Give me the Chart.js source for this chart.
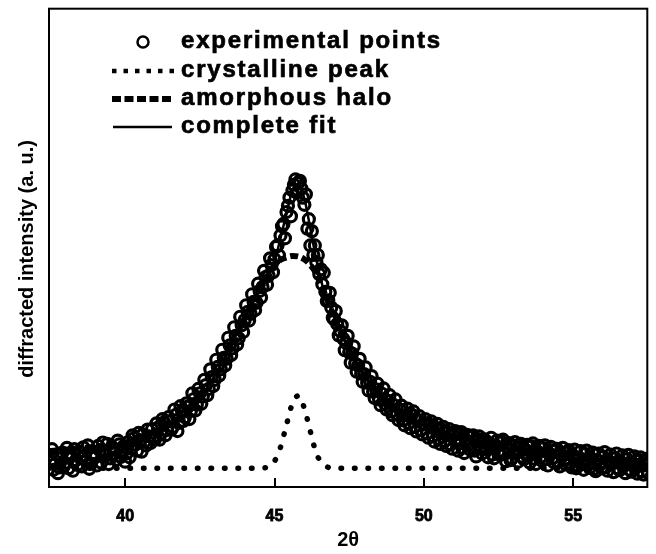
<!DOCTYPE html>
<html>
<head>
<meta charset="utf-8">
<script src="https://cdn.jsdelivr.net/npm/chart.js@4.4.1/dist/chart.umd.min.js"></script>
<style>
  html, body { margin: 0; padding: 0; background: #fff; }
  #wrap { position: relative; width: 656px; height: 554px; }
  #legend { position: absolute; left: 0; top: 0; font: bold 24px "Liberation Sans", Arial, sans-serif; letter-spacing: 1.8px; color: #000; -webkit-text-stroke: 0.7px #000; }
  .row { position: absolute; left: 110px; height: 28px; line-height: 28px; white-space: nowrap; }
  .row svg { position: absolute; left: 0; top: 0; }
  .row span { position: absolute; left: 71px; top: 0; }
</style>
</head>
<body>
<div id="wrap">
  <canvas id="xrdChart" width="656" height="554"></canvas>
  <div id="legend">
    <div class="row" style="top:26px">
      <svg width="70" height="28"><circle cx="33" cy="16" r="5.5" fill="none" stroke="#000" stroke-width="2.5"/></svg>
      <span>experimental points</span>
    </div>
    <div class="row" style="top:55px">
      <svg width="70" height="28"><line x1="2" y1="16" x2="64" y2="16" stroke="#000" stroke-width="4.5" stroke-dasharray="4.5 7"/></svg>
      <span>crystalline peak</span>
    </div>
    <div class="row" style="top:83px">
      <svg width="70" height="28"><line x1="2" y1="16" x2="63" y2="16" stroke="#000" stroke-width="6" stroke-dasharray="9 3.5"/></svg>
      <span>amorphous halo</span>
    </div>
    <div class="row" style="top:111px">
      <svg width="70" height="28"><line x1="3" y1="16" x2="62" y2="16" stroke="#000" stroke-width="2.5"/></svg>
      <span>complete fit</span>
    </div>
  </div>
</div>
<script>
// measured points (2θ, intensity in a.u.), first pass on the 0.1 grid
const expX = [
  37.5, 37.6, 37.7, 37.8, 37.9,
  38.0, 38.1, 38.2, 38.3, 38.4, 38.5, 38.6, 38.7, 38.8, 38.9,
  39.0, 39.1, 39.2, 39.3, 39.4, 39.5, 39.6, 39.7, 39.8, 39.9,
  40.0, 40.1, 40.2, 40.3, 40.4, 40.5, 40.6, 40.7, 40.8, 40.9,
  41.0, 41.1, 41.2, 41.3, 41.4, 41.5, 41.6, 41.7, 41.8, 41.9,
  42.0, 42.1, 42.2, 42.3, 42.4, 42.5, 42.6, 42.7, 42.8, 42.9,
  43.0, 43.1, 43.2, 43.3, 43.4, 43.5, 43.6, 43.7, 43.8, 43.9,
  44.0, 44.1, 44.2, 44.3, 44.4, 44.5, 44.6, 44.7, 44.8, 44.9,
  45.0, 45.1, 45.2, 45.3, 45.4, 45.5, 45.6, 45.7, 45.8, 45.9,
  46.0, 46.1, 46.2, 46.3, 46.4, 46.5, 46.6, 46.7, 46.8, 46.9,
  47.0, 47.1, 47.2, 47.3, 47.4, 47.5, 47.6, 47.7, 47.8, 47.9,
  48.0, 48.1, 48.2, 48.3, 48.4, 48.5, 48.6, 48.7, 48.8, 48.9,
  49.0, 49.1, 49.2, 49.3, 49.4, 49.5, 49.6, 49.7, 49.8, 49.9,
  50.0, 50.1, 50.2, 50.3, 50.4, 50.5, 50.6, 50.7, 50.8, 50.9,
  51.0, 51.1, 51.2, 51.3, 51.4, 51.5, 51.6, 51.7, 51.8, 51.9,
  52.0, 52.1, 52.2, 52.3, 52.4, 52.5, 52.6, 52.7, 52.8, 52.9,
  53.0, 53.1, 53.2, 53.3, 53.4, 53.5, 53.6, 53.7, 53.8, 53.9,
  54.0, 54.1, 54.2, 54.3, 54.4, 54.5, 54.6, 54.7, 54.8, 54.9,
  55.0, 55.1, 55.2, 55.3, 55.4, 55.5, 55.6, 55.7, 55.8, 55.9,
  56.0, 56.1, 56.2, 56.3, 56.4, 56.5, 56.6, 56.7, 56.8, 56.9,
  57.0, 57.1, 57.2, 57.3, 57.4, 57.5
];
const expY = [
  5.2, 3.6, 6.8, 4.1, 7.2,
  5.0, 3.9, 6.5, 7.9, 4.6, 6.1, 8.3, 5.4, 3.8, 7.0,
  6.2, 8.6, 5.1, 7.4, 9.0, 6.0, 8.1, 5.7, 8.9, 7.3,
  5.3, 9.4, 8.0, 10.2, 7.6, 9.8, 11.0, 8.7, 10.6, 12.1,
  10.0, 12.4, 11.2, 13.5, 11.9, 13.8, 12.6, 15.1, 13.4, 15.9,
  14.6, 16.8, 15.9, 18.4, 17.2, 19.6, 18.9, 21.3, 20.5, 23.0,
  22.4, 25.1, 24.6, 27.0, 26.8, 29.6, 29.0, 31.6, 31.1, 33.8,
  34.9, 36.6, 36.2, 38.7, 38.5, 41.0, 41.8, 43.9, 44.2, 46.4,
  47.6, 50.5, 52.6, 55.0, 57.5, 60.5, 62.0, 64.3, 63.6, 62.4,
  59.0, 54.0, 50.5, 48.5, 47.0, 44.5, 42.4, 40.8, 39.0, 37.5,
  35.0, 34.1, 32.6, 31.0, 30.1, 28.2, 27.9, 25.8, 25.4, 23.7,
  23.6, 21.8, 22.0, 19.9, 20.4, 18.3, 19.5, 17.4, 18.0, 15.8,
  17.1, 15.2, 16.2, 13.9, 15.0, 13.4, 15.1, 12.6, 14.0, 11.9,
  13.2, 11.2, 13.0, 10.6, 12.3, 10.1, 12.0, 9.6, 11.4, 8.9,
  10.8, 9.5, 11.1, 8.2, 9.9, 8.8, 10.5, 7.6, 9.6, 8.4,
  10.0, 7.9, 9.1, 6.8, 8.7, 7.5, 9.4, 6.9, 8.3, 5.6,
  8.6, 7.1, 8.9, 6.3, 7.8, 6.6, 8.5, 5.9, 7.4, 6.2,
  8.1, 5.8, 7.0, 6.0, 7.6, 5.3, 6.8, 5.5, 7.2, 4.9,
  6.6, 3.9, 6.1, 5.0, 6.9, 4.6, 6.0, 3.8, 5.6, 4.7,
  6.3, 4.2, 5.4, 4.9, 6.0, 3.9, 5.2, 4.4, 5.8, 3.6,
  5.0, 4.1, 5.5, 3.3, 4.6, 3.0
];
// second pass, shifted half a step
const expX2 = [
  37.55, 37.65, 37.75, 37.85, 37.95,
  38.05, 38.15, 38.25, 38.35, 38.45, 38.55, 38.65, 38.75, 38.85, 38.95,
  39.05, 39.15, 39.25, 39.35, 39.45, 39.55, 39.65, 39.75, 39.85, 39.95,
  40.05, 40.15, 40.25, 40.35, 40.45, 40.55, 40.65, 40.75, 40.85, 40.95,
  41.05, 41.15, 41.25, 41.35, 41.45, 41.55, 41.65, 41.75, 41.85, 41.95,
  42.05, 42.15, 42.25, 42.35, 42.45, 42.55, 42.65, 42.75, 42.85, 42.95,
  43.05, 43.15, 43.25, 43.35, 43.45, 43.55, 43.65, 43.75, 43.85, 43.95,
  44.05, 44.15, 44.25, 44.35, 44.45, 44.55, 44.65, 44.75, 44.85, 44.95,
  45.05, 45.15, 45.25, 45.35, 45.45, 45.55, 45.65, 45.75, 45.85, 45.95,
  46.05, 46.15, 46.25, 46.35, 46.45, 46.55, 46.65, 46.75, 46.85, 46.95,
  47.05, 47.15, 47.25, 47.35, 47.45, 47.55, 47.65, 47.75, 47.85, 47.95,
  48.05, 48.15, 48.25, 48.35, 48.45, 48.55, 48.65, 48.75, 48.85, 48.95,
  49.05, 49.15, 49.25, 49.35, 49.45, 49.55, 49.65, 49.75, 49.85, 49.95,
  50.05, 50.15, 50.25, 50.35, 50.45, 50.55, 50.65, 50.75, 50.85, 50.95,
  51.05, 51.15, 51.25, 51.35, 51.45, 51.55, 51.65, 51.75, 51.85, 51.95,
  52.05, 52.15, 52.25, 52.35, 52.45, 52.55, 52.65, 52.75, 52.85, 52.95,
  53.05, 53.15, 53.25, 53.35, 53.45, 53.55, 53.65, 53.75, 53.85, 53.95,
  54.05, 54.15, 54.25, 54.35, 54.45, 54.55, 54.65, 54.75, 54.85, 54.95,
  55.05, 55.15, 55.25, 55.35, 55.45, 55.55, 55.65, 55.75, 55.85, 55.95,
  56.05, 56.15, 56.25, 56.35, 56.45, 56.55, 56.65, 56.75, 56.85, 56.95,
  57.05, 57.15, 57.25, 57.35, 57.45
];
const expY2 = [
  7.9, 4.8, 2.9, 6.0, 4.4,
  8.2, 6.9, 3.4, 5.6, 7.4, 4.3, 6.6, 8.7, 4.9, 6.4,
  4.5, 7.7, 9.3, 6.6, 4.8, 8.4, 7.0, 9.7, 6.3, 8.5,
  7.0, 6.2, 10.8, 8.9, 11.3, 7.4, 9.5, 12.0, 9.2, 10.4,
  13.3, 9.9, 14.2, 10.8, 14.6, 12.0, 16.2, 11.7, 16.9, 13.8,
  17.5, 14.2, 19.6, 16.0, 20.5, 17.4, 22.4, 19.2, 24.6, 21.1,
  26.6, 23.3, 28.7, 25.4, 31.2, 27.6, 33.4, 29.8, 35.6, 32.4,
  38.0, 34.8, 40.3, 37.0, 42.5, 39.6, 45.2, 42.3, 47.8, 44.9,
  50.2, 48.4, 54.5, 52.0, 58.8, 56.6, 63.2, 61.5, 64.0, 60.5,
  61.2, 56.0, 53.5, 50.5, 48.5, 45.5, 44.8, 38.9, 40.6, 35.4,
  36.8, 31.7, 33.8, 28.6, 31.6, 26.0, 29.4, 24.1, 26.8, 22.0,
  25.0, 20.2, 23.2, 18.6, 21.6, 17.1, 20.6, 16.2, 19.2, 15.0,
  18.3, 14.0, 17.0, 12.9, 16.4, 12.3, 15.8, 11.6, 14.8, 11.0,
  14.2, 10.3, 13.7, 9.5, 13.2, 9.0, 12.6, 8.6, 12.1, 8.0,
  11.7, 7.6, 11.5, 7.1, 10.9, 7.8, 10.8, 6.4, 10.6, 7.0,
  9.8, 6.2, 10.3, 6.0, 9.7, 6.7, 9.9, 5.4, 9.2, 6.0,
  9.4, 5.3, 9.0, 5.8, 8.8, 5.1, 9.1, 4.8, 8.6, 5.5,
  8.7, 4.5, 8.4, 5.2, 8.0, 4.3, 8.2, 4.7, 7.7, 4.1,
  7.8, 4.4, 7.5, 3.6, 7.6, 4.0, 7.2, 3.3, 7.0, 3.9,
  7.3, 3.4, 6.8, 3.1, 7.0, 3.5, 6.6, 2.9, 6.7, 3.2,
  6.4, 2.8, 6.2, 2.6, 5.9
];

// fitted components
const fitX = [37.45, 38, 38.5, 39, 39.5, 40, 40.5, 41, 41.5, 42, 42.5, 43, 43.5, 44, 44.5,
  44.8, 45, 45.2, 45.4, 45.6, 45.8, 46, 46.2, 46.4, 46.6, 46.8, 47, 47.5, 48, 48.5,
  49, 49.5, 50, 51, 52, 53, 54, 55, 56, 57, 57.48];
const fitY = [7.5, 7.8, 8.1, 8.4, 8.8, 9.3, 10.2, 11.5, 13.1, 15.3, 18.7, 23.3, 29.2, 35.2, 41.0,
  44.3, 47.2, 52.0, 57.2, 62.0, 63.4, 60.3, 54.0, 47.5, 42.2, 38.8, 35.5, 28.6, 23.3, 19.4,
  16.6, 14.5, 12.8, 10.4, 8.8, 7.6, 6.7, 6.1, 5.6, 5.1, 4.9];
const haloY = [7.5, 7.8, 8.1, 8.4, 8.8, 9.3, 10.2, 11.5, 13.1, 15.3, 18.7, 23.3, 29.2, 35.2, 41.0,
  44.4, 46.3, 47.5, 48.0, 48.3, 48.2, 47.6, 46.4, 44.6, 41.6, 38.6, 35.4, 28.6, 23.3, 19.4,
  16.6, 14.5, 12.8, 10.4, 8.8, 7.6, 6.7, 6.1, 5.6, 5.1, 4.9];
const crysX = [37.45, 44.4, 44.6, 44.8, 45.0, 45.2, 45.4, 45.6, 45.8, 46.0, 46.2, 46.4, 46.6, 46.8, 47.0, 57.48];
const crysY = [3.9, 3.9, 4.0, 4.2, 5.4, 8.3, 13.0, 17.5, 19.1, 16.4, 11.6, 7.0, 5.0, 4.1, 3.9, 3.9];

const xTicks = [40, 45, 50, 55];

const pts = (xs, ys) => xs.map((x, i) => ({ x, y: ys[i] }));

// box around the plot + inward tick marks
const framePlugin = {
  id: 'frame',
  afterDraw(chart) {
    const { ctx, chartArea: a, scales } = chart;
    ctx.save();
    ctx.strokeStyle = '#000';
    ctx.lineWidth = 2;
    ctx.strokeRect(a.left, a.top, a.right - a.left, a.bottom - a.top);
    ctx.beginPath();
    xTicks.forEach(v => {
      const px = Math.round(scales.x.getPixelForValue(v));
      ctx.moveTo(px, a.bottom);
      ctx.lineTo(px, a.bottom - 9);
    });
    ctx.stroke();
    ctx.restore();
  }
};

const font = "'Liberation Sans', Arial, sans-serif";

new Chart(document.getElementById('xrdChart'), {
  type: 'scatter',
  data: {
    datasets: [
      {
        label: 'experimental points',
        data: pts(expX, expY).concat(pts(expX2, expY2)),
        showLine: false,
        pointRadius: 5.5,
        pointBorderWidth: 3.2,
        borderColor: '#000',
        backgroundColor: 'rgba(0,0,0,0)',
        order: 4
      },
      {
        label: 'crystalline peak',
        data: pts(crysX, crysY),
        showLine: true,
        pointRadius: 0,
        borderColor: '#000',
        borderWidth: 5.5,
        borderDash: [0.5, 13],
        borderCapStyle: 'round',
        cubicInterpolationMode: 'monotone',
        order: 3
      },
      {
        label: 'amorphous halo',
        data: pts(fitX, haloY),
        showLine: true,
        pointRadius: 0,
        borderColor: '#000',
        borderWidth: 6,
        borderDash: [8, 4],
        cubicInterpolationMode: 'monotone',
        order: 2
      },
      {
        label: 'complete fit',
        data: pts(fitX, fitY),
        showLine: true,
        pointRadius: 0,
        borderColor: '#000',
        borderWidth: 2.5,
        cubicInterpolationMode: 'monotone',
        order: 1
      }
    ]
  },
  options: {
    responsive: false,
    animation: false,
    devicePixelRatio: 1,
    layout: { padding: { top: 7, right: 6, left: 0, bottom: 0 } },
    plugins: { legend: { display: false }, tooltip: { enabled: false } },
    scales: {
      x: {
        type: 'linear',
        min: 37.45,
        max: 57.48,
        afterBuildTicks: s => { s.ticks = xTicks.map(v => ({ value: v })); },
        afterFit: s => { s.height = 67; },
        grid: { display: false, drawTicks: false },
        border: { display: false },
        ticks: {
          color: '#000', padding: 20, textStrokeColor: '#000', textStrokeWidth: 0.8,
          font: { family: font, size: 16, weight: 'bold' }
        },
        title: {
          display: true,
          text: '2θ',
          color: '#000',
          padding: { top: 0, bottom: 2 },
          font: { family: font, size: 20, weight: 'bold' }
        }
      },
      y: {
        min: 0,
        max: 100,
        afterFit: s => { s.width = 49; },
        grid: { display: false, drawTicks: false },
        border: { display: false },
        ticks: { display: false },
        title: {
          display: true,
          text: 'diffracted intensity (a. u.)    ',
          color: '#000',
          padding: { top: 15, bottom: 0 },
          font: { family: font, size: 20, weight: 'bold' }
        }
      }
    }
  },
  plugins: [framePlugin]
});
</script>
</body>
</html>
